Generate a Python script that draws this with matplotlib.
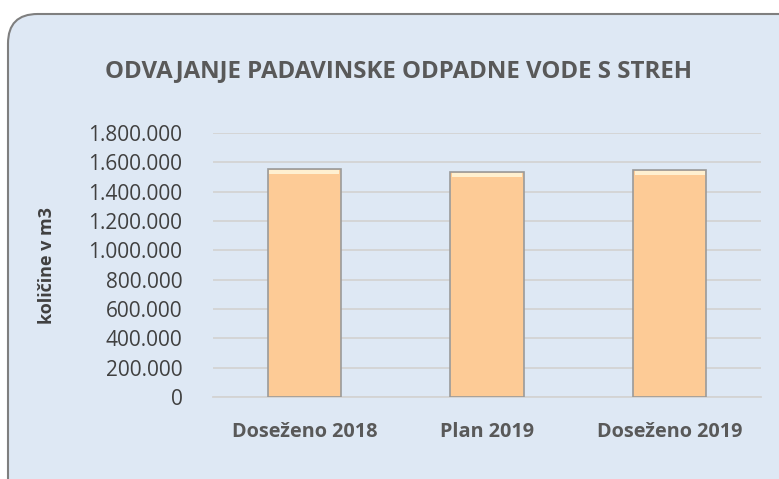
import matplotlib
matplotlib.use("Agg")
import matplotlib.pyplot as plt
from matplotlib.patches import FancyBboxPatch
from matplotlib.ticker import FuncFormatter

categories = ["Doseženo 2018", "Plan 2019", "Doseženo 2019"]
values = [1555000, 1532000, 1548000]
yticks = [0, 200000, 400000, 600000, 800000, 1000000, 1200000, 1400000, 1600000, 1800000]

plt.rcParams['font.family'] = ['Open Sans', 'DejaVu Sans']
W, H = 779, 479
fig = plt.figure(figsize=(W / 100, H / 100), dpi=100)
fig.patch.set_facecolor("white")

box = FancyBboxPatch((8 / W, -30 / H), (820 / W), (495 / H),
                     boxstyle="round,pad=0,rounding_size=0.038",
                     transform=fig.transFigure, facecolor="#DEE8F4",
                     edgecolor="#7F7F7F", linewidth=1.5, mutation_aspect=W / H,
                     zorder=-10)
fig.patches.append(box)

ax = fig.add_axes([213 / W, 1 - 397 / H, (761 - 213) / W, (397 - 133) / H])
ax.set_facecolor("none")
x = range(len(categories))
ax.bar(x, values, width=0.40, color="#FDCB96", edgecolor="#9A9A9A", linewidth=1.2, zorder=3)
ax.bar(x, [v * 0.018 for v in values], bottom=[v * 0.979 for v in values], width=0.385,
       color="#FFF0D0", edgecolor="none", zorder=4)
ax.set_ylim(0, 1800000)
ax.set_xlim(-0.5, 2.5)
ax.set_yticks(yticks)
ax.yaxis.set_major_formatter(FuncFormatter(lambda v, p: f"{int(v):,}".replace(",", ".")))
ax.grid(axis="y", color="#D3D3D3", linewidth=1.3, zorder=0)
for s in ["top", "right", "left"]:
    ax.spines[s].set_visible(False)
ax.spines["bottom"].set_color("#D3D3D3")
ax.spines["bottom"].set_linewidth(1.3)
ax.tick_params(axis="both", length=0, colors="#404040")
ax.tick_params(axis="y", labelsize=15, pad=22)
ax.set_xticks(list(x))
ax.set_xticklabels(categories, fontsize=14.3, fontweight="bold", color="#595959")
ax.tick_params(axis="x", pad=18)
fig.text(47 / W, 1 - 265 / H, "količine v m3", rotation=90, ha="center", va="center",
         fontsize=13, fontweight="bold", color="#404040")

fig.text(399 / W, 1 - 71 / H, "ODVAJANJE PADAVINSKE ODPADNE VODE S STREH",
         ha="center", va="center", fontsize=17.3, fontweight="bold", color="#595959")

fig.savefig("out.png", dpi=100)
